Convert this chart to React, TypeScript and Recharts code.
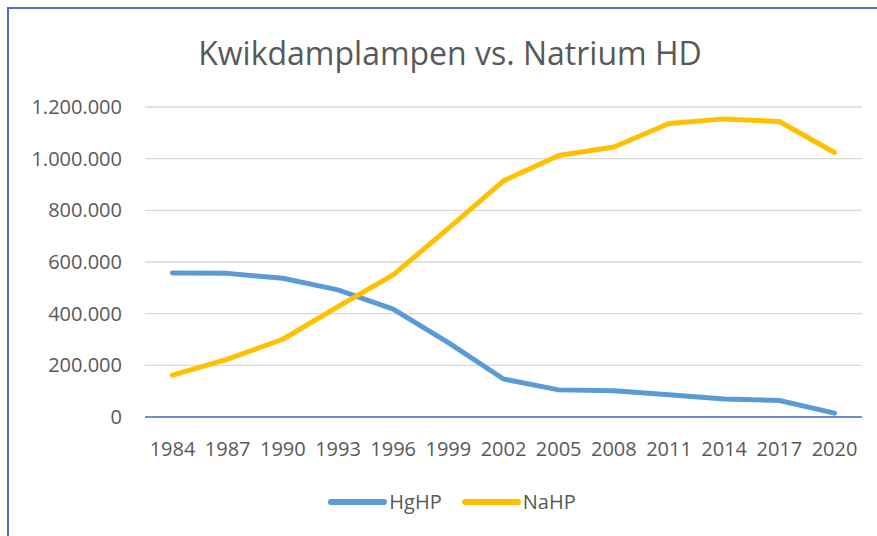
import React from 'react';
import { LineChart, Line, XAxis, YAxis, CartesianGrid, Legend } from 'recharts';

const years = ['1984', '1987', '1990', '1993', '1996', '1999', '2002', '2005', '2008', '2011', '2014', '2017', '2020'];
const hgHP = [557000, 556000, 537000, 492000, 418000, 288000, 147000, 105000, 102000, 86000, 70000, 64000, 15000];
const naHP = [162000, 224000, 301000, 427000, 550000, 730000, 914000, 1012000, 1045000, 1136000, 1154000, 1144000, 1024000];
const yTicks = [0, 200000, 400000, 600000, 800000, 1000000, 1200000];
const seriesNames = { hg: 'HgHP', na: 'NaHP' };
const title = 'Kwikdamplampen vs. Natrium HD';

const data = years.map((y, i) => ({ year: y, HgHP: hgHP[i], NaHP: naHP[i] }));

const FONT = '"Open Sans", sans-serif';
const TEXT = '#595959';

function fmt(v: number): string {
  if (v === 0) return '0';
  const s = String(Math.round(v));
  return s.replace(/\B(?=(\d{3})+(?!\d))/g, '.');
}

function LegendContent(props: any) {
  const payload = props.payload || [];
  return (
    <div style={{ display: 'flex', justifyContent: 'center', alignItems: 'center', height: 30, paddingLeft: 27 }}>
      {payload.map((p: any, i: number) => (
        <div key={i} style={{ display: 'flex', alignItems: 'center', marginRight: i === 0 ? 20 : 0 }}>
          <svg width={59} height={10} style={{ display: 'block' }}>
            <line x1={3} y1={5} x2={56} y2={5} stroke={p.color} strokeWidth={6} strokeLinecap="round" />
          </svg>
          <span style={{ fontFamily: FONT, fontSize: 20, color: TEXT, marginLeft: 2, lineHeight: '30px' }}>{p.value}</span>
        </div>
      ))}
    </div>
  );
}

export default function App() {
  return (
    <div style={{ position: 'fixed', left: 0, top: 0, width: 877, height: 536, background: '#fff', overflow: 'hidden' }}>
      <div style={{ position: 'absolute', left: 7, top: 7, width: 900, height: 600, borderLeft: '2px solid #4472C4', borderTop: '2px solid #4472C4' }} />
      <div style={{ position: 'absolute', left: 0, width: 900, top: 33, textAlign: 'center', fontFamily: FONT, fontSize: 32, color: TEXT, lineHeight: '40px', whiteSpace: 'nowrap' }}>
        {title}
      </div>
      <div style={{ position: 'absolute', left: 0, top: 0 }}>
        <LineChart width={877} height={536} data={data} margin={{ top: 107, right: 15, left: 0, bottom: 39 }}>
          <CartesianGrid vertical={false} stroke="#D9D9D9" strokeWidth={1.3} />
          <XAxis
            dataKey="year"
            padding={{ left: 27.5, right: 27.5 }}
            tickSize={0}
            tickMargin={25}
            height={50}
            axisLine={{ stroke: '#4472C4', strokeWidth: 1.3 }}
            tick={{ fill: TEXT, fontSize: 20, fontFamily: FONT }}
            interval={0}
          />
          <YAxis
            width={145}
            domain={[0, 1200000]}
            ticks={yTicks}
            tickFormatter={fmt}
            axisLine={false}
            tickSize={0}
            tickMargin={23}
            tick={{ fill: TEXT, fontSize: 20, fontFamily: FONT }}
          />
          <Legend
            verticalAlign="bottom"
            content={<LegendContent />}
            wrapperStyle={{ top: 487, left: 0, width: 877, height: 30 }}
          />
          <Line type="linear" dataKey="HgHP" name={seriesNames.hg} stroke="#5B9BD5" strokeWidth={5} dot={false} strokeLinecap="round" strokeLinejoin="round" isAnimationActive={false} />
          <Line type="linear" dataKey="NaHP" name={seriesNames.na} stroke="#FFC000" strokeWidth={5} dot={false} strokeLinecap="round" strokeLinejoin="round" isAnimationActive={false} />
        </LineChart>
      </div>
    </div>
  );
}
